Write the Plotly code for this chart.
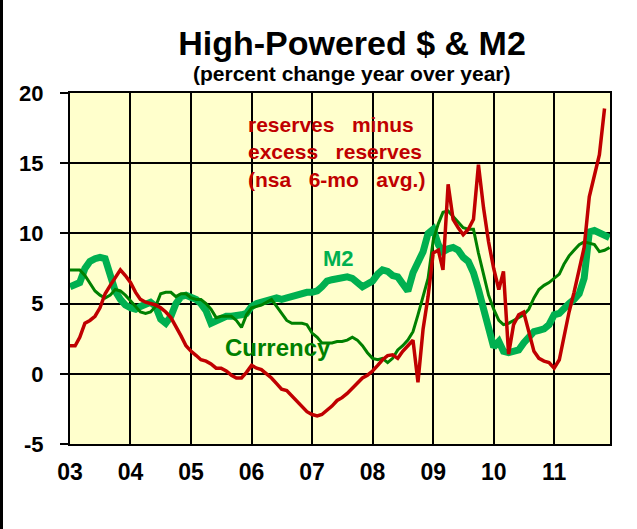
import pandas as pd
import plotly.graph_objects as go

# monthly, Jan 2003 onward (percent change y/y)
months = pd.date_range("2003-01-01", "2011-12-01", freq="MS")

y_ticks = [-5, 0, 5, 10, 15, 20]
y_labels = ["-5", "0", "5", "10", "15", "20"]

reserves = [
    2.0, 2.0, 2.6, 3.6, 3.8, 4.1, 4.7, 5.7, 6.3, 6.9, 7.4, 7.0,
    6.5, 5.8, 5.3, 5.1, 5.0, 4.9, 4.7, 4.4, 4.0, 3.4, 2.7, 2.0,
    1.6, 1.3, 1.0, 0.9, 0.7, 0.4, 0.4, 0.2, -0.1, -0.3, -0.3, 0.1,
    0.6, 0.4, 0.3, 0.0, -0.3, -0.7, -1.1, -1.2, -1.6, -2.0, -2.4, -2.7,
    -2.9, -3.0, -2.9, -2.6, -2.3, -1.9, -1.7, -1.4, -1.0, -0.7, -0.3, -0.1,
    0.2, 0.6, 1.0, 1.3, 1.35, 1.1, 1.6, 2.0, 2.4, -0.6, 3.2, 5.5,
    8.6, 8.8, 7.4, 13.5, 11.0, 10.4, 9.9, 10.3, 11.0, 14.9, 11.8, 9.4,
    7.5, 6.0, 7.3, 1.4, 3.5, 4.2, 4.4, 3.0, 1.6, 1.1, 0.9, 0.8,
    0.4, 1.0, 2.6, 4.4, 5.8, 7.4, 9.0, 12.6, 14.0, 15.6, 18.9,
]

currency = [
    7.4, 7.4, 7.4, 7.0, 6.5, 5.9, 5.6, 5.4, 5.6, 6.0, 5.9, 5.6,
    5.2, 4.8, 4.4, 4.3, 4.4, 4.8, 5.7, 5.8, 5.8, 5.5, 5.7, 5.7,
    5.4, 5.3, 5.3, 5.0, 4.6, 4.0, 4.1, 4.1, 4.1, 3.8, 3.3, 4.2,
    4.7, 4.8, 4.9, 5.1, 5.3, 4.8, 4.3, 3.8, 3.6, 3.6, 3.6, 3.5,
    2.9, 2.6, 2.2, 2.2, 2.2, 2.3, 2.3, 2.4, 2.6, 2.4, 2.0, 1.5,
    1.1, 1.0, 1.1, 0.8, 1.1, 1.7, 2.0, 2.4, 3.0, 4.2, 5.5, 6.8,
    9.5, 10.7, 11.5, 11.6, 11.2, 10.8, 10.4, 10.3, 10.3, 8.6, 7.0, 5.6,
    4.6, 3.8, 3.5, 3.6, 3.8, 4.0, 4.2, 4.6, 5.4, 6.0, 6.3, 6.5,
    6.8, 7.1, 7.8, 8.4, 8.8, 9.2, 9.4, 9.3, 9.2, 8.7, 8.8, 9.0,
]

m2 = [
    6.2, 6.4, 6.5, 7.5, 8.0, 8.2, 8.3, 8.2, 7.2, 5.9, 5.3, 4.9,
    4.7, 4.6, 4.8, 5.0, 5.1, 4.8, 3.9, 3.6, 4.1, 5.0, 5.5, 5.6,
    5.5, 5.3, 5.0, 4.5, 3.6, 3.8, 4.0, 4.1, 4.1, 4.1, 4.2, 4.3,
    4.8, 5.0, 5.1, 5.2, 5.3, 5.4, 5.3, 5.4, 5.6, 5.6, 5.8, 5.8,
    5.8, 5.9, 6.2, 6.6, 6.7, 6.8, 6.8, 6.9, 6.8, 6.5, 6.2, 6.4,
    6.6, 7.1, 7.4, 7.3, 7.0, 6.9, 6.5, 5.9, 7.2, 8.0, 8.7, 10.0,
    10.3, 9.2, 8.7, 8.9, 9.0, 8.8, 8.3, 8.0, 7.2, 6.0, 4.6, 3.1,
    1.9, 2.3, 1.6, 1.5, 1.6, 1.7, 2.2, 2.7, 3.0, 3.1, 3.2, 3.5,
    4.2, 4.3, 4.7, 5.0, 5.3, 5.7, 6.8, 10.1, 10.2, 10.0, 9.9, 9.7,
]

RED = "#C00000"
DARK_GREEN = "#008000"
BRIGHT_GREEN = "#00B050"
FONT = "Arial"

fig = go.Figure()
fig.add_trace(go.Scatter(x=months[: len(m2)], y=m2, mode="lines",
                         line=dict(color=BRIGHT_GREEN, width=7), name="M2"))
fig.add_trace(go.Scatter(x=months[: len(currency)], y=currency, mode="lines",
                         line=dict(color=DARK_GREEN, width=3), name="Currency"))
fig.add_trace(go.Scatter(x=months[: len(reserves)], y=reserves, mode="lines",
                         line=dict(color=RED, width=3.5), name="Reserves"))

# plot area is 70..610 x 93..444 px
def px(x):
    return (x - 70) / 540


def py(y):
    return (444 - y) / 351


# series labels
fig.add_annotation(
    text="<b>reserves   minus<br>excess   reserves<br>(nsa   6-mo   avg.)</b>",
    x=px(246), y=py(152), xref="paper", yref="paper", xanchor="left", yanchor="middle",
    align="left", showarrow=False, font=dict(family=FONT, size=21, color=RED),
)
fig.add_annotation(
    text="<b>M2</b>", x=px(321), y=py(258), xref="paper", yref="paper",
    xanchor="left", yanchor="middle", showarrow=False,
    font=dict(family=FONT, size=22, color=BRIGHT_GREEN),
)
fig.add_annotation(
    text="<b>Currency</b>", x=px(223), y=py(347), xref="paper", yref="paper",
    xanchor="left", yanchor="middle", showarrow=False,
    font=dict(family=FONT, size=24, color=DARK_GREEN),
)

fig.add_annotation(
    text="<b>(percent change year over year)</b>", x=px(351), y=py(74),
    xref="paper", yref="paper", xanchor="center", yanchor="middle", showarrow=False,
    font=dict(family=FONT, size=21, color="black"),
)

# black rule down the left edge of the picture
fig.add_shape(type="line", xref="paper", yref="paper",
              x0=px(1.5), x1=px(1.5), y0=py(0), y1=py(529),
              line=dict(color="black", width=3))

fig.update_layout(
    width=637,
    height=529,
    margin=dict(l=70, r=27, t=93, b=85),
    paper_bgcolor="white",
    plot_bgcolor="#FFFFCC",
    showlegend=False,
    title=dict(text="<b>High-Powered $ & M2</b>", x=352 / 637, y=1 - 43 / 529,
               xanchor="center", yanchor="middle",
               font=dict(family=FONT, size=34, color="black")),
    font=dict(family=FONT, color="black"),
)

fig.update_xaxes(
    range=["2003-01-01", "2011-12-04"],
    tickmode="linear", tick0="2003-01-01", dtick="M12", tickformat="%y",
    showgrid=True, gridcolor="black", gridwidth=2,
    showline=True, linecolor="black", linewidth=2, mirror=True,
    ticks="", ticklabelstandoff=6,
    tickfont=dict(family=FONT, size=23, color="black", weight="bold"),
)
fig.update_yaxes(
    range=[-5, 20], tickmode="array", tickvals=y_ticks, ticktext=y_labels,
    showgrid=True, gridcolor="black", gridwidth=2,
    zeroline=True, zerolinecolor="black", zerolinewidth=2,
    showline=True, linecolor="black", linewidth=2, mirror=True,
    ticks="outside", ticklen=8, tickwidth=2, tickcolor="black",
    ticklabelstandoff=12,
    tickfont=dict(family=FONT, size=22, color="black", weight="bold"),
)

# page body has a default 8px margin; drop it so the figure sits at the corner
fig.write_html("out.html", config={"displayModeBar": False},
               post_script="document.body.style.margin='0';")
